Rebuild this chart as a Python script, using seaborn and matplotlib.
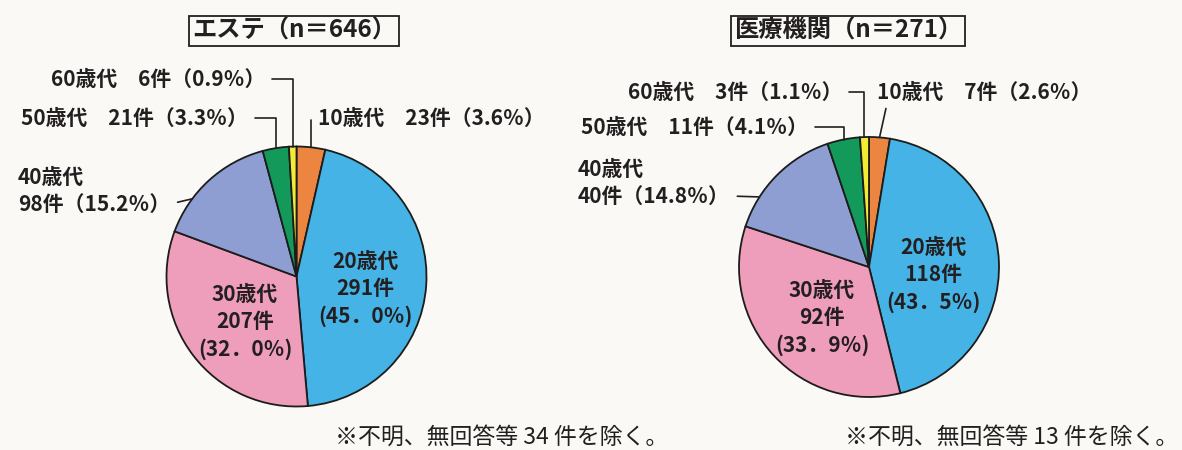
import numpy as np
import matplotlib
matplotlib.use("Agg")
import matplotlib.pyplot as plt
import seaborn as sns

# ------------------------------------------------------------------
# Data
# ------------------------------------------------------------------
age_groups = ["10歳代", "20歳代", "30歳代", "40歳代", "50歳代", "60歳代"]

este_counts = [23, 291, 207, 98, 21, 6]
este_pcts = [3.6, 45.0, 32.0, 15.2, 3.3, 0.9]
este_title = "エステ（n＝646）"
este_note = "※不明、無回答等 34 件を除く。"

iryo_counts = [7, 118, 92, 40, 11, 3]
iryo_pcts = [2.6, 43.5, 33.9, 14.8, 4.1, 1.1]
iryo_title = "医療機関（n＝271）"
iryo_note = "※不明、無回答等 13 件を除く。"

slice_colors = ["#EC8540", "#45B3E5", "#EE9DBB", "#8E9ED2", "#13995A", "#F3EC35"]

# ------------------------------------------------------------------
# Style
# ------------------------------------------------------------------
sns.set_theme(style="white")
plt.rcParams["font.family"] = ["Noto Sans CJK JP", "DejaVu Sans"]
BG = "#FAF9F5"
INK = "#231F20"
FW = "bold"

W, H = 1182, 450
fig = plt.figure(figsize=(W / 100, H / 100), dpi=100, facecolor=BG)
ax = fig.add_axes([0, 0, 1, 1])
ax.set_facecolor(BG)


def Y(y):
    # layout positions are given top-down in pixels
    return H - y


def edge_point(wedge, frac=0.5):
    ang = np.deg2rad(wedge.theta1 + frac * (wedge.theta2 - wedge.theta1))
    cx, cy = wedge.center
    return cx + wedge.r * np.cos(ang), cy + wedge.r * np.sin(ang)


def draw_pie(counts, pcts, title, note, layout):
    cx, cy, r = layout["center"]
    wedges, _ = ax.pie(
        counts, colors=slice_colors, startangle=90, counterclock=False,
        center=(cx, Y(cy)), radius=r,
        wedgeprops=dict(edgecolor="#1c1c1c", linewidth=1.3),
    )

    # title box
    tx, ty = layout["title"]
    ax.text(tx, Y(ty), title, ha="center", va="center", fontsize=17.5,
            color=INK, fontweight=FW,
            bbox=dict(boxstyle="square,pad=0.12", facecolor="none",
                      edgecolor=INK, linewidth=1.3))

    # labels inside the two big slices
    for i in (1, 2):
        lx, ly = layout["inner"][i]
        pct = f"{pcts[i]:.1f}".replace(".", "．")
        txt = f"{age_groups[i]}\n{counts[i]}件\n({pct}％)"
        ax.text(lx, Y(ly), txt, ha="center", va="center", fontsize=15,
                color=INK, fontweight=FW, linespacing=1.38)

    # outside labels with leader lines
    for i, spec in layout["outer"].items():
        lx, ly = spec["pos"]
        if spec.get("two_line"):
            ax.text(lx, Y(ly - 27), age_groups[i], ha="left", va="center",
                    fontsize=15, color=INK, fontweight=FW)
            txt = f"{counts[i]}件（{pcts[i]:.1f}％）"
        else:
            txt = f"{age_groups[i]}　{counts[i]}件（{pcts[i]:.1f}％）"
        ax.annotate(
            txt, xy=edge_point(wedges[i], spec.get("frac", 0.5)),
            xytext=(lx, Y(ly)), textcoords="data",
            ha=spec["ha"], va="center", fontsize=15, color=INK, fontweight=FW,
            arrowprops=dict(arrowstyle="-", color=INK, lw=1.2,
                            shrinkA=spec.get("shrinkA", 3), shrinkB=0,
                            relpos=spec["relpos"],
                            connectionstyle=spec["conn"]),
        )

    nx, ny = layout["note"]
    ax.text(nx, Y(ny), note, ha="left", va="center", fontsize=16.5, color=INK)


elbow = "angle,angleA=0,angleB=90,rad=0"

este_layout = {
    "center": (296.5, 276.5, 130),
    "title": (294, 31),
    "inner": {1: (365, 289), 2: (245, 322)},
    "outer": {
        5: {"pos": (265, 79), "ha": "right", "relpos": (1, 0.5), "conn": elbow},
        4: {"pos": (248, 118), "ha": "right", "relpos": (1, 0.5), "conn": elbow},
        0: {"pos": (318, 118), "ha": "left", "relpos": (0, 0.5), "conn": elbow},
        3: {"pos": (18, 204), "ha": "left", "relpos": (1, 0.5), "conn": "arc3",
            "two_line": True, "frac": 0.7},
    },
    "note": (335, 437),
}

iryo_layout = {
    "center": (869, 267, 130),
    "title": (848, 31),
    "inner": {1: (933, 275), 2: (822, 318)},
    "outer": {
        5: {"pos": (842, 92), "ha": "right", "relpos": (1, 0.5), "conn": elbow},
        4: {"pos": (808, 127), "ha": "right", "relpos": (1, 0.5), "conn": elbow},
        0: {"pos": (877, 92), "ha": "left", "relpos": (0.05, 0.1), "conn": "arc3",
            "shrinkA": 2},
        3: {"pos": (578, 196), "ha": "left", "relpos": (1, 0.5), "conn": "arc3",
            "two_line": True, "frac": 0.73},
    },
    "note": (845, 437),
}

draw_pie(este_counts, este_pcts, este_title, este_note, este_layout)
draw_pie(iryo_counts, iryo_pcts, iryo_title, iryo_note, iryo_layout)

ax.set_xlim(0, W)
ax.set_ylim(0, H)
ax.set_aspect("equal")
ax.axis("off")

fig.savefig("out.png", dpi=100, facecolor=BG)
